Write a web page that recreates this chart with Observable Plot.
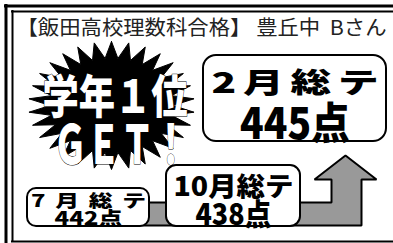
<!DOCTYPE html>
<html><head><meta charset="utf-8">
<script src="https://cdn.jsdelivr.net/npm/d3@7"></script>
<script src="https://cdn.jsdelivr.net/npm/@observablehq/plot@0.6"></script>
<style>html,body{margin:0;padding:0;background:#fff;overflow:hidden}</style>
</head><body><div id="chart"></div>
<script>
// ---- data ----
const title = "【飯田高校理数科合格】 豊丘中  Bさん";
const tests = ["7月総テ", "10月総テ", "2月総テ"];
const scores = [442, 438, 445];
const badgeLines = ["学年１位", "ＧＥＴ！"];

// ---- layout (pixels) ----
const W = 393, H = 243;
const FONT = "'Noto Sans CJK JP', sans-serif";
const boxLayout = [
  {x1: 27, x2: 149, y1: 188, y2: 226, r: 9,  fs1: 17, fs2: 18, b1: 206, b2: 224, sx1: 1.4, len1: 115, adj1: "spacing", len2: 68},
  {x1: 166, x2: 300, y1: 165, y2: 226, r: 10, fs1: 26, fs2: 30, b1: 195, b2: 224, sx1: 1, len1: 120, adj1: "spacingAndGlyphs", len2: 76},
  {x1: 203, x2: 386, y1: 55, y2: 141, r: 13, fs1: 28, fs2: 43, b1: 92, b2: 138, sx1: 1.45, len1: 167, adj1: "spacing", len2: 110}
];
const boxes = tests.map((t, i) => ({label: t, score: `${scores[i]}点`, ...boxLayout[i]}));

// frame lines (double border on left/top, single at bottom; right side lies outside the picture)
const vLines = [{x: 5.5, y1: 4, y2: H, sw: 3}, {x: 12, y1: 10, y2: 242, sw: 2}];
const hLines = [{y: 5.5, x1: 4, x2: W, sw: 3}, {y: 11, x1: 11, x2: W, sw: 2}, {y: 241, x1: 11, x2: W, sw: 2}];

// arrow path derived from box layout
const band = {y1: 202, y2: 225};
const shaft = {x1: 331, x2: 361};
const head = {x1: 314, x2: 376, y: 179, tipY: 155};
const bx = boxLayout[0].x2 - 10;
const arrow = [
  [bx, band.y1], [shaft.x1, band.y1], [shaft.x1, head.y], [head.x1, head.y],
  [(head.x1 + head.x2) / 2, head.tipY], [head.x2, head.y], [shaft.x2, head.y], [shaft.x2, band.y2],
  [bx, band.y2], [bx, band.y1]
];

// starburst shape
const burstC = {cx: 111, cy: 105, rx: 83, ry: 64, n: 30, inner: 0.74};
const burst = d3.range(2 * burstC.n + 1).map(i => {
  const a = i * Math.PI / burstC.n - Math.PI / 2;
  const r = i % 2 === 0 ? 1 : burstC.inner;
  return [burstC.cx + burstC.rx * r * Math.cos(a), burstC.cy + burstC.ry * r * Math.sin(a)];
});

const badge = [
  {t: badgeLines[0], x: 114.5, y: 112, fs: 46, len: 145},
  {t: badgeLines[1], x: 120, y: 163, fs: 54, len: 134}
];

const plot = Plot.plot({
  width: W, height: H,
  margin: 0,
  x: {domain: [0, W], range: [0, W], axis: null},
  y: {domain: [0, H], range: [0, H], axis: null},
  style: {fontFamily: FONT, background: "#fff"},
  marks: [
    Plot.ruleX(vLines, {x: "x", y1: "y1", y2: "y2", stroke: "#000", strokeWidth: "sw"}),
    Plot.ruleY(hLines, {y: "y", x1: "x1", x2: "x2", stroke: "#000", strokeWidth: "sw"}),
    Plot.text([title], {x: 16, y: 34, text: d => d, textAnchor: "start", lineAnchor: "bottom", fontSize: 20, fill: "#222", fontFamily: FONT}),
    Plot.line(burst, {x: d => d[0], y: d => d[1], fill: "#000", stroke: "#000", strokeWidth: 1, curve: "linear"}),
    Plot.text(badge, {x: "x", y: "y", text: "t", fontSize: "fs", fontWeight: 900, lineAnchor: "bottom", fill: "#fff", stroke: "#000", strokeWidth: 1, paintOrder: "stroke", fontFamily: FONT}),
    Plot.line(arrow, {x: d => d[0], y: d => d[1], fill: "#999", stroke: "#000", strokeWidth: 2, strokeLinejoin: "miter", curve: "linear"}),
    Plot.rect(boxes, {x1: "x1", x2: "x2", y1: "y1", y2: "y2", fill: "#fff", stroke: "#000", strokeWidth: 2}),
    Plot.text(boxes, {x: d => (d.x1 + d.x2) / 2, y: "b1", text: "label", fontSize: "fs1", fontWeight: 900, lineAnchor: "bottom", fill: "#000", fontFamily: FONT}),
    Plot.text(boxes, {x: d => (d.x1 + d.x2) / 2, y: "b2", text: "score", fontSize: "fs2", fontWeight: 900, lineAnchor: "bottom", fill: "#000", fontFamily: FONT})
  ]
});

// text width fitting (optional horizontal scale sx about the anchor point)
const fits = new Map();
fits.set(title, {len: 370, adj: "spacingAndGlyphs", sx: 1});
badge.forEach(b => fits.set(b.t, {len: b.len, adj: "spacingAndGlyphs", sx: 1}));
boxes.forEach(b => {
  fits.set(b.label, {len: b.len1, adj: b.adj1, sx: b.sx1});
  fits.set(b.score, {len: b.len2, adj: "spacingAndGlyphs", sx: 1});
});
d3.select(plot).selectAll("text").each(function() {
  const f = fits.get(this.textContent);
  if (!f) return;
  this.setAttribute("textLength", f.len / f.sx);
  this.setAttribute("lengthAdjust", f.adj);
  if (f.sx !== 1) {
    const x = +this.getAttribute("x") || 0;
    const prev = this.getAttribute("transform") || "";
    this.setAttribute("transform", `${prev} translate(${x},0) scale(${f.sx},1) translate(${-x},0)`);
  }
});
// rounded corners per box
const rMap = new Map(boxes.map(b => [Math.round(b.x2 - b.x1), b.r]));
d3.select(plot).selectAll("rect").each(function() {
  const r = rMap.get(Math.round(+this.getAttribute("width")));
  if (r) { this.setAttribute("rx", r); this.setAttribute("ry", r); }
});
document.getElementById("chart").appendChild(plot);
</script>
</body></html>
